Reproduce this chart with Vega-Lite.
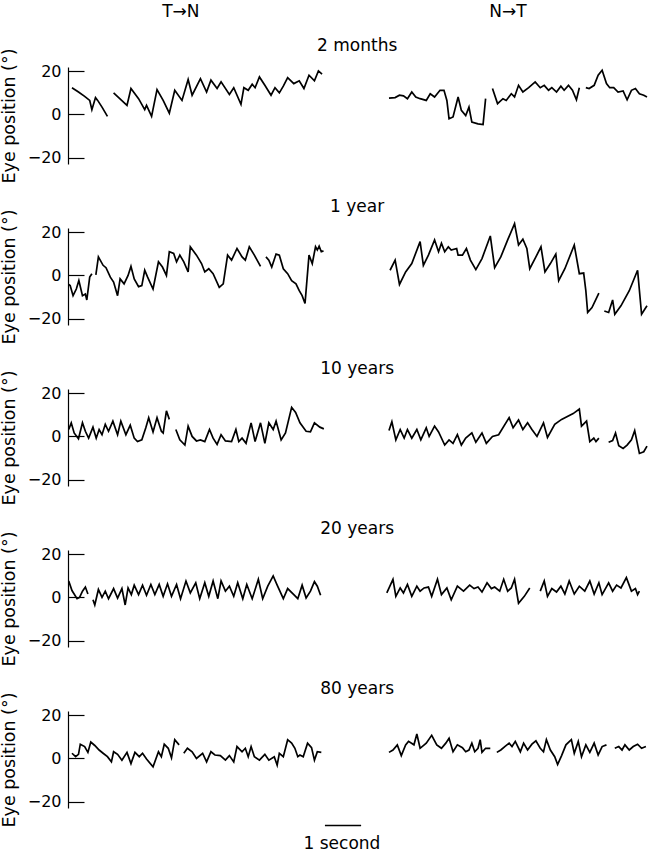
{
  "$schema": "https://vega.github.io/schema/vega-lite/v6.json",
  "background": "white",
  "padding": {"left": 0, "top": 3, "right": 0, "bottom": 0},
  "spacing": 64,
  "bounds": "flush",
  "config": {
    "view": {"stroke": null},
    "font": "DejaVu Sans",
    "text": {"font": "DejaVu Sans", "fontSize": 17, "color": "black"},
    "axisX": {"disable": true},
    "axisY": {
      "grid": false,
      "domainColor": "black",
      "domainWidth": 1.2,
      "tickColor": "black",
      "tickWidth": 1.2,
      "tickSize": -16,
      "labelPadding": 23,
      "labelFont": "DejaVu Sans",
      "labelFontSize": 16,
      "labelColor": "black",
      "titleFont": "DejaVu Sans",
      "titleFontSize": 17.5,
      "titleFontWeight": "normal",
      "titleColor": "black",
      "titlePadding": 9
    }
  },
  "datasets": {
    "m2": [
      {"s":"a","t":0.11,"v":12.4},{"s":"a","t":0.29,"v":10.4},{"s":"a","t":0.46,"v":8.4},{"s":"a","t":0.60,"v":6.5},{"s":"a","t":0.66,"v":2.2},{"s":"a","t":0.76,"v":7.8},{"s":"a","t":0.82,"v":6.5},{"s":"a","t":0.94,"v":3.4},{"s":"a","t":1.09,"v":-0.9},
      {"s":"b","t":1.26,"v":10.0},{"s":"b","t":1.63,"v":4.2},{"s":"b","t":1.74,"v":12.0},{"s":"b","t":1.95,"v":7.3},{"s":"b","t":2.12,"v":2.2},{"s":"b","t":2.17,"v":4.2},{"s":"b","t":2.31,"v":-0.9},{"s":"b","t":2.46,"v":11.5},{"s":"b","t":2.63,"v":6.5},{"s":"b","t":2.80,"v":0.6},{"s":"b","t":2.95,"v":11.2},{"s":"b","t":3.15,"v":6.5},{"s":"b","t":3.32,"v":16.2},{"s":"b","t":3.43,"v":8.9},{"s":"b","t":3.66,"v":16.6},{"s":"b","t":3.83,"v":10.4},{"s":"b","t":3.95,"v":15.9},{"s":"b","t":4.12,"v":12.0},{"s":"b","t":4.23,"v":15.1},{"s":"b","t":4.46,"v":9.3},{"s":"b","t":4.58,"v":12.4},{"s":"b","t":4.78,"v":4.7},{"s":"b","t":4.86,"v":12.4},{"s":"b","t":4.98,"v":11.2},{"s":"b","t":5.09,"v":14.0},{"s":"b","t":5.17,"v":12.4},{"s":"b","t":5.29,"v":17.4},{"s":"b","t":5.44,"v":13.5},{"s":"b","t":5.61,"v":8.9},{"s":"b","t":5.72,"v":12.4},{"s":"b","t":5.84,"v":10.0},{"s":"b","t":5.95,"v":13.1},{"s":"b","t":6.07,"v":17.1},{"s":"b","t":6.24,"v":14.3},{"s":"b","t":6.39,"v":15.6},{"s":"b","t":6.52,"v":12.0},{"s":"b","t":6.66,"v":18.2},{"s":"b","t":6.81,"v":15.6},{"s":"b","t":6.92,"v":20.2},{"s":"b","t":7.02,"v":18.7},
      {"s":"c","t":8.87,"v":7.6},{"s":"c","t":9.04,"v":7.8},{"s":"c","t":9.16,"v":8.9},{"s":"c","t":9.27,"v":8.6},{"s":"c","t":9.38,"v":7.3},{"s":"c","t":9.50,"v":10.4},{"s":"c","t":9.61,"v":8.1},{"s":"c","t":9.73,"v":7.3},{"s":"c","t":9.90,"v":6.5},{"s":"c","t":10.01,"v":9.6},{"s":"c","t":10.13,"v":8.1},{"s":"c","t":10.28,"v":11.2},{"s":"c","t":10.39,"v":11.2},{"s":"c","t":10.47,"v":6.5},{"s":"c","t":10.53,"v":-2.0},{"s":"c","t":10.64,"v":-1.2},{"s":"c","t":10.78,"v":8.1},{"s":"c","t":10.87,"v":1.9},{"s":"c","t":10.99,"v":-0.5},{"s":"c","t":11.08,"v":3.4},{"s":"c","t":11.16,"v":-3.6},{"s":"c","t":11.33,"v":-4.4},{"s":"c","t":11.47,"v":-4.7},{"s":"c","t":11.54,"v":7.3},
      {"s":"d","t":11.73,"v":12.0},{"s":"d","t":11.87,"v":5.0},{"s":"d","t":12.02,"v":7.3},{"s":"d","t":12.11,"v":6.5},{"s":"d","t":12.25,"v":9.6},{"s":"d","t":12.34,"v":8.1},{"s":"d","t":12.45,"v":13.5},{"s":"d","t":12.57,"v":10.4},{"s":"d","t":12.73,"v":12.4},{"s":"d","t":12.91,"v":15.1},{"s":"d","t":13.05,"v":12.4},{"s":"d","t":13.16,"v":13.5},{"s":"d","t":13.28,"v":11.2},{"s":"d","t":13.37,"v":12.4},{"s":"d","t":13.50,"v":10.4},{"s":"d","t":13.62,"v":13.1},{"s":"d","t":13.71,"v":11.2},{"s":"d","t":13.83,"v":13.5},{"s":"d","t":13.94,"v":11.2},{"s":"d","t":14.05,"v":6.8},{"s":"d","t":14.13,"v":12.4},
      {"s":"e","t":14.31,"v":12.4},{"s":"e","t":14.40,"v":12.0},{"s":"e","t":14.54,"v":13.5},{"s":"e","t":14.65,"v":18.2},{"s":"e","t":14.76,"v":20.5},{"s":"e","t":14.88,"v":14.3},{"s":"e","t":14.97,"v":12.4},{"s":"e","t":15.08,"v":12.4},{"s":"e","t":15.20,"v":10.4},{"s":"e","t":15.34,"v":10.9},{"s":"e","t":15.45,"v":6.8},{"s":"e","t":15.57,"v":11.2},{"s":"e","t":15.68,"v":12.0},{"s":"e","t":15.79,"v":9.6},{"s":"e","t":15.91,"v":8.9},{"s":"e","t":16.0,"v":8.1}
    ],
    "y1": [
      {"s":"a","t":0.02,"v":-4.2},{"s":"a","t":0.06,"v":-4.7},{"s":"a","t":0.14,"v":-9.4},{"s":"a","t":0.23,"v":-6.3},{"s":"a","t":0.30,"v":-2.4},{"s":"a","t":0.40,"v":-9.4},{"s":"a","t":0.48,"v":-8.6},{"s":"a","t":0.52,"v":-11.4},{"s":"a","t":0.60,"v":-0.8},{"s":"a","t":0.66,"v":0.8},
      {"s":"b","t":0.77,"v":0.3},{"s":"b","t":0.84,"v":8.6},{"s":"b","t":0.97,"v":4.7},{"s":"b","t":1.05,"v":3.6},{"s":"b","t":1.17,"v":-0.8},{"s":"b","t":1.26,"v":-3.1},{"s":"b","t":1.37,"v":-9.4},{"s":"b","t":1.44,"v":-1.6},{"s":"b","t":1.55,"v":-3.9},{"s":"b","t":1.66,"v":0.0},{"s":"b","t":1.74,"v":4.2},{"s":"b","t":1.83,"v":-1.6},{"s":"b","t":1.95,"v":-5.2},{"s":"b","t":2.04,"v":-4.7},{"s":"b","t":2.12,"v":2.4},{"s":"b","t":2.20,"v":-0.8},{"s":"b","t":2.35,"v":-6.3},{"s":"b","t":2.50,"v":6.3},{"s":"b","t":2.61,"v":3.9},{"s":"b","t":2.72,"v":0.0},{"s":"b","t":2.80,"v":11.0},{"s":"b","t":2.92,"v":10.2},{"s":"b","t":3.00,"v":6.3},{"s":"b","t":3.09,"v":9.4},{"s":"b","t":3.20,"v":6.3},{"s":"b","t":3.32,"v":1.6},{"s":"b","t":3.38,"v":13.3},{"s":"b","t":3.55,"v":9.4},{"s":"b","t":3.69,"v":5.5},{"s":"b","t":3.78,"v":1.6},{"s":"b","t":3.89,"v":3.1},{"s":"b","t":4.01,"v":0.8},{"s":"b","t":4.18,"v":-5.5},{"s":"b","t":4.29,"v":-3.9},{"s":"b","t":4.41,"v":9.4},{"s":"b","t":4.52,"v":7.1},{"s":"b","t":4.67,"v":12.5},{"s":"b","t":4.81,"v":8.6},{"s":"b","t":4.90,"v":7.1},{"s":"b","t":5.01,"v":13.3},{"s":"b","t":5.15,"v":9.4},{"s":"b","t":5.32,"v":4.2},
      {"s":"c","t":5.47,"v":8.6},{"s":"c","t":5.55,"v":7.1},{"s":"c","t":5.63,"v":3.9},{"s":"c","t":5.75,"v":9.9},{"s":"c","t":5.84,"v":9.4},{"s":"c","t":5.95,"v":3.1},{"s":"c","t":6.07,"v":0.8},{"s":"c","t":6.18,"v":-2.4},{"s":"c","t":6.30,"v":-3.9},{"s":"c","t":6.39,"v":-7.1},{"s":"c","t":6.47,"v":-9.4},{"s":"c","t":6.55,"v":-13.0},{"s":"c","t":6.66,"v":9.4},{"s":"c","t":6.75,"v":5.5},{"s":"c","t":6.84,"v":13.3},{"s":"c","t":6.89,"v":11.8},{"s":"c","t":6.94,"v":13.6},{"s":"c","t":7.00,"v":11.0},{"s":"c","t":7.06,"v":11.4},
      {"s":"d","t":8.90,"v":2.4},{"s":"d","t":9.04,"v":7.1},{"s":"d","t":9.16,"v":-4.2},{"s":"d","t":9.33,"v":1.6},{"s":"d","t":9.50,"v":5.5},{"s":"d","t":9.73,"v":15.7},{"s":"d","t":9.82,"v":4.7},{"s":"d","t":9.96,"v":9.4},{"s":"d","t":10.13,"v":16.5},{"s":"d","t":10.24,"v":11.0},{"s":"d","t":10.32,"v":14.9},{"s":"d","t":10.41,"v":11.0},{"s":"d","t":10.51,"v":13.3},{"s":"d","t":10.59,"v":11.8},{"s":"d","t":10.74,"v":12.5},{"s":"d","t":10.78,"v":9.4},{"s":"d","t":10.90,"v":9.4},{"s":"d","t":11.01,"v":12.5},{"s":"d","t":11.12,"v":7.1},{"s":"d","t":11.27,"v":2.7},{"s":"d","t":11.44,"v":7.8},{"s":"d","t":11.67,"v":18.3},{"s":"d","t":11.79,"v":3.6},{"s":"d","t":11.96,"v":8.6},{"s":"d","t":12.15,"v":16.5},{"s":"d","t":12.34,"v":24.0},{"s":"d","t":12.45,"v":14.1},{"s":"d","t":12.57,"v":16.8},{"s":"d","t":12.68,"v":12.5},{"s":"d","t":12.76,"v":3.1},{"s":"d","t":12.93,"v":8.6},{"s":"d","t":13.07,"v":13.3},{"s":"d","t":13.18,"v":1.6},{"s":"d","t":13.33,"v":5.5},{"s":"d","t":13.48,"v":9.9},{"s":"d","t":13.56,"v":-2.4},{"s":"d","t":13.73,"v":3.1},{"s":"d","t":13.99,"v":14.1},{"s":"d","t":14.13,"v":0.8},{"s":"d","t":14.25,"v":1.1},{"s":"d","t":14.31,"v":-7.1},{"s":"d","t":14.36,"v":-17.2},{"s":"d","t":14.48,"v":-14.9},{"s":"d","t":14.67,"v":-8.2},
      {"s":"e","t":14.82,"v":-16.5},{"s":"e","t":14.94,"v":-17.2},{"s":"e","t":15.05,"v":-11.4},{"s":"e","t":15.11,"v":-18.0},{"s":"e","t":15.28,"v":-14.1},{"s":"e","t":15.51,"v":-7.1},{"s":"e","t":15.74,"v":2.4},{"s":"e","t":15.85,"v":-18.0},{"s":"e","t":16.0,"v":-14.1}
    ],
    "y10": [
      {"s":"a","t":0.02,"v":3.2},{"s":"a","t":0.09,"v":6.3},{"s":"a","t":0.17,"v":1.6},{"s":"a","t":0.29,"v":-1.1},{"s":"a","t":0.40,"v":6.3},{"s":"a","t":0.48,"v":2.4},{"s":"a","t":0.57,"v":-0.8},{"s":"a","t":0.69,"v":4.3},{"s":"a","t":0.78,"v":-0.8},{"s":"a","t":0.86,"v":3.2},{"s":"a","t":0.94,"v":0.8},{"s":"a","t":1.03,"v":5.6},{"s":"a","t":1.12,"v":2.4},{"s":"a","t":1.24,"v":7.1},{"s":"a","t":1.37,"v":0.8},{"s":"a","t":1.46,"v":7.1},{"s":"a","t":1.60,"v":0.8},{"s":"a","t":1.72,"v":5.2},{"s":"a","t":1.83,"v":-0.8},{"s":"a","t":1.92,"v":-2.4},{"s":"a","t":2.04,"v":-1.6},{"s":"a","t":2.15,"v":4.0},{"s":"a","t":2.23,"v":8.7},{"s":"a","t":2.35,"v":2.1},{"s":"a","t":2.46,"v":8.7},{"s":"a","t":2.58,"v":2.4},{"s":"a","t":2.63,"v":1.6},{"s":"a","t":2.72,"v":11.9},{"s":"a","t":2.80,"v":7.9},
      {"s":"b","t":2.98,"v":3.2},{"s":"b","t":3.09,"v":-1.6},{"s":"b","t":3.23,"v":-4.0},{"s":"b","t":3.32,"v":4.8},{"s":"b","t":3.43,"v":0.0},{"s":"b","t":3.55,"v":-2.1},{"s":"b","t":3.66,"v":-1.6},{"s":"b","t":3.78,"v":-2.4},{"s":"b","t":3.91,"v":3.2},{"s":"b","t":4.01,"v":-0.8},{"s":"b","t":4.12,"v":-3.7},{"s":"b","t":4.23,"v":0.8},{"s":"b","t":4.35,"v":-2.1},{"s":"b","t":4.52,"v":-2.4},{"s":"b","t":4.64,"v":3.2},{"s":"b","t":4.72,"v":-2.4},{"s":"b","t":4.81,"v":-0.8},{"s":"b","t":4.92,"v":-3.2},{"s":"b","t":5.06,"v":6.3},{"s":"b","t":5.17,"v":-2.4},{"s":"b","t":5.32,"v":6.3},{"s":"b","t":5.44,"v":-3.2},{"s":"b","t":5.55,"v":6.3},{"s":"b","t":5.67,"v":3.2},{"s":"b","t":5.75,"v":7.1},{"s":"b","t":5.89,"v":-1.6},{"s":"b","t":6.01,"v":1.6},{"s":"b","t":6.18,"v":13.5},{"s":"b","t":6.29,"v":11.1},{"s":"b","t":6.41,"v":6.3},{"s":"b","t":6.58,"v":2.4},{"s":"b","t":6.70,"v":2.1},{"s":"b","t":6.81,"v":6.3},{"s":"b","t":6.96,"v":4.3},{"s":"b","t":7.07,"v":3.5},
      {"s":"c","t":8.87,"v":2.7},{"s":"c","t":8.95,"v":6.8},{"s":"c","t":9.06,"v":-1.6},{"s":"c","t":9.18,"v":3.2},{"s":"c","t":9.29,"v":-0.8},{"s":"c","t":9.38,"v":3.2},{"s":"c","t":9.50,"v":-0.8},{"s":"c","t":9.64,"v":3.2},{"s":"c","t":9.75,"v":-1.6},{"s":"c","t":9.90,"v":4.0},{"s":"c","t":9.98,"v":0.0},{"s":"c","t":10.13,"v":4.8},{"s":"c","t":10.24,"v":2.1},{"s":"c","t":10.41,"v":-4.0},{"s":"c","t":10.53,"v":-1.6},{"s":"c","t":10.64,"v":-3.2},{"s":"c","t":10.76,"v":0.8},{"s":"c","t":10.87,"v":-4.0},{"s":"c","t":10.99,"v":-0.8},{"s":"c","t":11.16,"v":1.6},{"s":"c","t":11.27,"v":-2.7},{"s":"c","t":11.44,"v":1.6},{"s":"c","t":11.56,"v":-3.2},{"s":"c","t":11.73,"v":0.0},{"s":"c","t":11.90,"v":0.8},{"s":"c","t":12.19,"v":8.7},{"s":"c","t":12.30,"v":4.0},{"s":"c","t":12.45,"v":7.6},{"s":"c","t":12.57,"v":3.2},{"s":"c","t":12.70,"v":6.3},{"s":"c","t":12.82,"v":3.2},{"s":"c","t":12.96,"v":0.0},{"s":"c","t":13.14,"v":6.3},{"s":"c","t":13.25,"v":-0.5},{"s":"c","t":13.45,"v":5.6},{"s":"c","t":13.64,"v":7.9},{"s":"c","t":13.96,"v":10.6},{"s":"c","t":14.13,"v":12.7},{"s":"c","t":14.19,"v":4.8},{"s":"c","t":14.33,"v":7.1},{"s":"c","t":14.42,"v":-2.4},{"s":"c","t":14.53,"v":-0.8},{"s":"c","t":14.59,"v":-2.4},{"s":"c","t":14.67,"v":-0.8},
      {"s":"d","t":14.94,"v":-2.7},{"s":"d","t":15.05,"v":-1.9},{"s":"d","t":15.13,"v":1.6},{"s":"d","t":15.22,"v":-4.3},{"s":"d","t":15.34,"v":-5.6},{"s":"d","t":15.45,"v":-4.0},{"s":"d","t":15.57,"v":-1.6},{"s":"d","t":15.66,"v":2.7},{"s":"d","t":15.79,"v":-7.9},{"s":"d","t":15.91,"v":-7.1},{"s":"d","t":16.0,"v":-4.5}
    ],
    "y20": [
      {"s":"a","t":0.02,"v":7.6},{"s":"a","t":0.11,"v":3.2},{"s":"a","t":0.25,"v":-0.6},{"s":"a","t":0.32,"v":0.0},{"s":"a","t":0.40,"v":2.9},{"s":"a","t":0.48,"v":4.8},{"s":"a","t":0.55,"v":1.6},
      {"s":"b","t":0.69,"v":-1.1},{"s":"b","t":0.74,"v":-3.5},{"s":"b","t":0.84,"v":3.7},{"s":"b","t":0.94,"v":0.0},{"s":"b","t":1.03,"v":2.9},{"s":"b","t":1.12,"v":-0.6},{"s":"b","t":1.26,"v":4.1},{"s":"b","t":1.37,"v":-0.3},{"s":"b","t":1.49,"v":4.1},{"s":"b","t":1.58,"v":-3.5},{"s":"b","t":1.66,"v":4.4},{"s":"b","t":1.75,"v":1.3},{"s":"b","t":1.83,"v":5.7},{"s":"b","t":1.95,"v":1.3},{"s":"b","t":2.06,"v":5.7},{"s":"b","t":2.17,"v":1.0},{"s":"b","t":2.29,"v":6.0},{"s":"b","t":2.40,"v":1.3},{"s":"b","t":2.52,"v":6.0},{"s":"b","t":2.63,"v":0.5},{"s":"b","t":2.75,"v":6.3},{"s":"b","t":2.86,"v":0.5},{"s":"b","t":3.00,"v":6.0},{"s":"b","t":3.11,"v":-0.6},{"s":"b","t":3.26,"v":7.6},{"s":"b","t":3.38,"v":2.1},{"s":"b","t":3.53,"v":6.8},{"s":"b","t":3.64,"v":-0.6},{"s":"b","t":3.78,"v":6.8},{"s":"b","t":3.89,"v":0.5},{"s":"b","t":4.01,"v":7.6},{"s":"b","t":4.14,"v":-0.6},{"s":"b","t":4.23,"v":7.6},{"s":"b","t":4.35,"v":2.9},{"s":"b","t":4.46,"v":5.2},{"s":"b","t":4.58,"v":0.5},{"s":"b","t":4.69,"v":6.8},{"s":"b","t":4.83,"v":-0.6},{"s":"b","t":4.94,"v":6.0},{"s":"b","t":5.09,"v":-0.6},{"s":"b","t":5.26,"v":8.4},{"s":"b","t":5.38,"v":-0.6},{"s":"b","t":5.52,"v":5.2},{"s":"b","t":5.67,"v":10.0},{"s":"b","t":5.78,"v":5.7},{"s":"b","t":5.95,"v":-0.6},{"s":"b","t":6.07,"v":4.1},{"s":"b","t":6.24,"v":1.3},{"s":"b","t":6.35,"v":-0.6},{"s":"b","t":6.47,"v":5.7},{"s":"b","t":6.58,"v":-0.3},{"s":"b","t":6.70,"v":2.9},{"s":"b","t":6.81,"v":7.3},{"s":"b","t":6.89,"v":5.2},{"s":"b","t":6.98,"v":1.0},
      {"s":"c","t":8.81,"v":2.1},{"s":"c","t":8.98,"v":8.4},{"s":"c","t":9.06,"v":0.5},{"s":"c","t":9.18,"v":4.4},{"s":"c","t":9.27,"v":2.1},{"s":"c","t":9.38,"v":6.0},{"s":"c","t":9.50,"v":0.5},{"s":"c","t":9.64,"v":5.2},{"s":"c","t":9.73,"v":2.9},{"s":"c","t":9.84,"v":4.4},{"s":"c","t":9.96,"v":4.8},{"s":"c","t":10.05,"v":0.5},{"s":"c","t":10.21,"v":8.4},{"s":"c","t":10.32,"v":1.3},{"s":"c","t":10.47,"v":4.4},{"s":"c","t":10.59,"v":-1.1},{"s":"c","t":10.76,"v":5.2},{"s":"c","t":10.93,"v":2.9},{"s":"c","t":11.10,"v":5.7},{"s":"c","t":11.22,"v":4.1},{"s":"c","t":11.33,"v":4.8},{"s":"c","t":11.44,"v":2.5},{"s":"c","t":11.58,"v":6.8},{"s":"c","t":11.70,"v":4.1},{"s":"c","t":11.79,"v":4.8},{"s":"c","t":11.93,"v":2.9},{"s":"c","t":12.04,"v":8.4},{"s":"c","t":12.15,"v":2.9},{"s":"c","t":12.25,"v":4.4},{"s":"c","t":12.34,"v":8.4},{"s":"c","t":12.45,"v":-2.7},{"s":"c","t":12.61,"v":0.5},{"s":"c","t":12.76,"v":4.4},
      {"s":"d","t":13.05,"v":2.9},{"s":"d","t":13.16,"v":7.6},{"s":"d","t":13.25,"v":0.5},{"s":"d","t":13.37,"v":4.1},{"s":"d","t":13.50,"v":2.5},{"s":"d","t":13.62,"v":5.2},{"s":"d","t":13.73,"v":1.6},{"s":"d","t":13.85,"v":7.6},{"s":"d","t":13.99,"v":1.6},{"s":"d","t":14.13,"v":5.2},{"s":"d","t":14.28,"v":2.9},{"s":"d","t":14.42,"v":7.6},{"s":"d","t":14.54,"v":1.6},{"s":"d","t":14.67,"v":6.8},{"s":"d","t":14.76,"v":1.3},{"s":"d","t":14.94,"v":6.8},{"s":"d","t":15.05,"v":2.9},{"s":"d","t":15.16,"v":5.7},{"s":"d","t":15.28,"v":4.4},{"s":"d","t":15.43,"v":9.2},{"s":"d","t":15.57,"v":2.9},{"s":"d","t":15.68,"v":4.1},{"s":"d","t":15.74,"v":1.3},{"s":"d","t":15.79,"v":2.9}
    ],
    "y80": [
      {"s":"a","t":0.11,"v":2.4},{"s":"a","t":0.21,"v":0.8},{"s":"a","t":0.29,"v":1.9},{"s":"a","t":0.34,"v":6.6},{"s":"a","t":0.46,"v":5.5},{"s":"a","t":0.55,"v":2.8},{"s":"a","t":0.63,"v":7.6},{"s":"a","t":0.74,"v":6.0},{"s":"a","t":0.86,"v":3.9},{"s":"a","t":0.97,"v":2.4},{"s":"a","t":1.09,"v":0.8},{"s":"a","t":1.20,"v":-1.6},{"s":"a","t":1.26,"v":3.1},{"s":"a","t":1.37,"v":1.9},{"s":"a","t":1.49,"v":-0.8},{"s":"a","t":1.63,"v":2.8},{"s":"a","t":1.74,"v":-2.4},{"s":"a","t":1.85,"v":2.8},{"s":"a","t":1.97,"v":0.8},{"s":"a","t":2.06,"v":2.4},{"s":"a","t":2.17,"v":-0.3},{"s":"a","t":2.35,"v":-3.9},{"s":"a","t":2.50,"v":3.1},{"s":"a","t":2.58,"v":0.8},{"s":"a","t":2.66,"v":6.6},{"s":"a","t":2.77,"v":4.7},{"s":"a","t":2.86,"v":0.3},{"s":"a","t":2.95,"v":8.7},{"s":"a","t":3.07,"v":6.3},
      {"s":"b","t":3.20,"v":2.4},{"s":"b","t":3.30,"v":4.7},{"s":"b","t":3.43,"v":3.1},{"s":"b","t":3.55,"v":0.0},{"s":"b","t":3.72,"v":2.4},{"s":"b","t":3.83,"v":-1.6},{"s":"b","t":3.95,"v":3.1},{"s":"b","t":4.06,"v":1.6},{"s":"b","t":4.21,"v":1.3},{"s":"b","t":4.35,"v":-0.8},{"s":"b","t":4.46,"v":1.3},{"s":"b","t":4.58,"v":-1.6},{"s":"b","t":4.67,"v":5.5},{"s":"b","t":4.81,"v":3.1},{"s":"b","t":4.90,"v":4.7},{"s":"b","t":4.98,"v":0.8},{"s":"b","t":5.06,"v":5.5},{"s":"b","t":5.15,"v":0.8},{"s":"b","t":5.29,"v":-0.8},{"s":"b","t":5.44,"v":1.9},{"s":"b","t":5.55,"v":-0.8},{"s":"b","t":5.70,"v":0.8},{"s":"b","t":5.78,"v":-3.1},{"s":"b","t":5.84,"v":2.4},{"s":"b","t":5.95,"v":0.8},{"s":"b","t":6.07,"v":8.7},{"s":"b","t":6.18,"v":7.1},{"s":"b","t":6.27,"v":4.7},{"s":"b","t":6.35,"v":0.8},{"s":"b","t":6.41,"v":1.6},{"s":"b","t":6.50,"v":0.8},{"s":"b","t":6.62,"v":7.1},{"s":"b","t":6.73,"v":5.0},{"s":"b","t":6.81,"v":-0.8},{"s":"b","t":6.89,"v":3.1},{"s":"b","t":7.00,"v":2.8},
      {"s":"c","t":8.87,"v":2.8},{"s":"c","t":8.98,"v":3.9},{"s":"c","t":9.10,"v":6.3},{"s":"c","t":9.21,"v":1.3},{"s":"c","t":9.33,"v":6.3},{"s":"c","t":9.41,"v":7.9},{"s":"c","t":9.56,"v":6.3},{"s":"c","t":9.64,"v":11.3},{"s":"c","t":9.73,"v":4.7},{"s":"c","t":9.90,"v":7.1},{"s":"c","t":10.05,"v":10.7},{"s":"c","t":10.19,"v":6.3},{"s":"c","t":10.32,"v":4.7},{"s":"c","t":10.44,"v":7.1},{"s":"c","t":10.53,"v":9.4},{"s":"c","t":10.64,"v":3.1},{"s":"c","t":10.76,"v":6.3},{"s":"c","t":10.90,"v":5.0},{"s":"c","t":10.99,"v":3.1},{"s":"c","t":11.08,"v":3.9},{"s":"c","t":11.16,"v":7.1},{"s":"c","t":11.24,"v":3.1},{"s":"c","t":11.33,"v":4.7},{"s":"c","t":11.39,"v":8.7},{"s":"c","t":11.44,"v":2.8},{"s":"c","t":11.54,"v":4.7},{"s":"c","t":11.67,"v":4.7},
      {"s":"d","t":11.85,"v":2.8},{"s":"d","t":11.96,"v":3.9},{"s":"d","t":12.07,"v":5.5},{"s":"d","t":12.19,"v":7.1},{"s":"d","t":12.27,"v":5.5},{"s":"d","t":12.36,"v":7.9},{"s":"d","t":12.50,"v":3.1},{"s":"d","t":12.59,"v":7.1},{"s":"d","t":12.70,"v":3.9},{"s":"d","t":12.82,"v":6.6},{"s":"d","t":12.93,"v":8.2},{"s":"d","t":13.05,"v":4.7},{"s":"d","t":13.14,"v":3.1},{"s":"d","t":13.22,"v":8.7},{"s":"d","t":13.33,"v":3.9},{"s":"d","t":13.45,"v":0.8},{"s":"d","t":13.53,"v":-2.8},{"s":"d","t":13.64,"v":1.3},{"s":"d","t":13.76,"v":6.3},{"s":"d","t":13.91,"v":8.7},{"s":"d","t":13.99,"v":2.4},{"s":"d","t":14.10,"v":7.9},{"s":"d","t":14.19,"v":0.8},{"s":"d","t":14.31,"v":6.3},{"s":"d","t":14.42,"v":2.8},{"s":"d","t":14.54,"v":7.1},{"s":"d","t":14.65,"v":1.6},{"s":"d","t":14.76,"v":5.5},{"s":"d","t":14.88,"v":6.3},
      {"s":"e","t":15.11,"v":4.7},{"s":"e","t":15.22,"v":5.5},{"s":"e","t":15.31,"v":3.9},{"s":"e","t":15.39,"v":6.3},{"s":"e","t":15.51,"v":3.9},{"s":"e","t":15.62,"v":5.5},{"s":"e","t":15.74,"v":6.6},{"s":"e","t":15.85,"v":4.7},{"s":"e","t":15.97,"v":5.5}
    ]
  },
  "vconcat": [
    {
      "width": 579, "height": 97,
      "layer": [
        {"data": {"name": "m2"}, "mark": {"type": "line", "color": "black", "strokeWidth": 1.7},
         "encoding": {"x": {"field": "t", "type": "quantitative", "scale": {"domain": [0, 16], "nice": false, "zero": false}},
                      "y": {"field": "v", "type": "quantitative", "scale": {"domain": [-23, 22], "nice": false, "zero": false}, "axis": {"values": [-20, 0, 20], "title": "Eye position (°)"}},
                      "detail": {"field": "s"}}},
        {"data": {"values": [{}]}, "mark": {"type": "text", "baseline": "middle", "align": "center"},
         "encoding": {"x": {"datum": 7.99, "type": "quantitative"}, "y": {"datum": 31.9, "type": "quantitative"}, "text": {"value": "2 months"}}},
        {"data": {"values": [{}]}, "mark": {"type": "text", "baseline": "middle", "align": "center"},
         "encoding": {"x": {"datum": 3.12, "type": "quantitative"}, "y": {"datum": 47.5, "type": "quantitative"}, "text": {"value": "T→N"}}},
        {"data": {"values": [{}]}, "mark": {"type": "text", "baseline": "middle", "align": "center"},
         "encoding": {"x": {"datum": 12.16, "type": "quantitative"}, "y": {"datum": 47.5, "type": "quantitative"}, "text": {"value": "N→T"}}}
      ]
    },
    {
      "width": 579, "height": 97,
      "layer": [
        {"data": {"name": "y1"}, "mark": {"type": "line", "color": "black", "strokeWidth": 1.7},
         "encoding": {"x": {"field": "t", "type": "quantitative", "scale": {"domain": [0, 16], "nice": false, "zero": false}},
                      "y": {"field": "v", "type": "quantitative", "scale": {"domain": [-23, 22], "nice": false, "zero": false}, "axis": {"values": [-20, 0, 20], "title": "Eye position (°)"}},
                      "detail": {"field": "s"}}},
        {"data": {"values": [{}]}, "mark": {"type": "text", "baseline": "middle", "align": "center"},
         "encoding": {"x": {"datum": 7.99, "type": "quantitative"}, "y": {"datum": 31.6, "type": "quantitative"}, "text": {"value": "1 year"}}}
      ]
    },
    {
      "width": 579, "height": 97,
      "layer": [
        {"data": {"name": "y10"}, "mark": {"type": "line", "color": "black", "strokeWidth": 1.7},
         "encoding": {"x": {"field": "t", "type": "quantitative", "scale": {"domain": [0, 16], "nice": false, "zero": false}},
                      "y": {"field": "v", "type": "quantitative", "scale": {"domain": [-23, 22], "nice": false, "zero": false}, "axis": {"values": [-20, 0, 20], "title": "Eye position (°)"}},
                      "detail": {"field": "s"}}},
        {"data": {"values": [{}]}, "mark": {"type": "text", "baseline": "middle", "align": "center"},
         "encoding": {"x": {"datum": 7.99, "type": "quantitative"}, "y": {"datum": 31.3, "type": "quantitative"}, "text": {"value": "10 years"}}}
      ]
    },
    {
      "width": 579, "height": 97,
      "layer": [
        {"data": {"name": "y20"}, "mark": {"type": "line", "color": "black", "strokeWidth": 1.7},
         "encoding": {"x": {"field": "t", "type": "quantitative", "scale": {"domain": [0, 16], "nice": false, "zero": false}},
                      "y": {"field": "v", "type": "quantitative", "scale": {"domain": [-23, 22], "nice": false, "zero": false}, "axis": {"values": [-20, 0, 20], "title": "Eye position (°)"}},
                      "detail": {"field": "s"}}},
        {"data": {"values": [{}]}, "mark": {"type": "text", "baseline": "middle", "align": "center"},
         "encoding": {"x": {"datum": 7.99, "type": "quantitative"}, "y": {"datum": 31.6, "type": "quantitative"}, "text": {"value": "20 years"}}}
      ]
    },
    {
      "width": 579, "height": 97,
      "layer": [
        {"data": {"name": "y80"}, "mark": {"type": "line", "color": "black", "strokeWidth": 1.7},
         "encoding": {"x": {"field": "t", "type": "quantitative", "scale": {"domain": [0, 16], "nice": false, "zero": false}},
                      "y": {"field": "v", "type": "quantitative", "scale": {"domain": [-23, 22], "nice": false, "zero": false}, "axis": {"values": [-20, 0, 20], "title": "Eye position (°)"}},
                      "detail": {"field": "s"}}},
        {"data": {"values": [{}]}, "mark": {"type": "text", "baseline": "middle", "align": "center"},
         "encoding": {"x": {"datum": 7.99, "type": "quantitative"}, "y": {"datum": 32.0, "type": "quantitative"}, "text": {"value": "80 years"}}},
        {"data": {"values": [{}]}, "mark": {"type": "rule", "color": "black", "strokeWidth": 1.5},
         "encoding": {"x": {"datum": 7.10, "type": "quantitative"}, "x2": {"datum": 8.10}, "y": {"datum": -31.1, "type": "quantitative"}}},
        {"data": {"values": [{}]}, "mark": {"type": "text", "baseline": "middle", "align": "center"},
         "encoding": {"x": {"datum": 7.57, "type": "quantitative"}, "y": {"datum": -39.9, "type": "quantitative"}, "text": {"value": "1 second"}}}
      ]
    }
  ]
}
